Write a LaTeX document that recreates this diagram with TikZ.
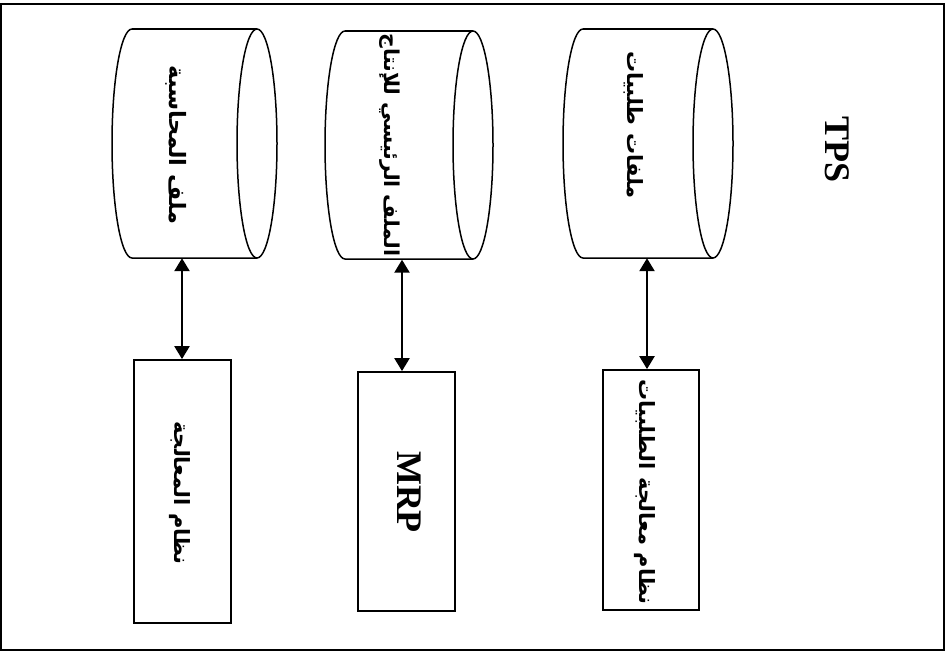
\documentclass[tikz,border=0pt]{standalone}
\usepackage{fontspec}
\usetikzlibrary{arrows.meta}
\TeXXeTstate=1
\setmainfont{Liberation Serif}
\newfontfamily\arabicfont[Script=Arabic]{DejaVu Sans}

\tikzset{
  frame/.style={draw, line width=2pt},
  store/.style={line width=1.5pt},
  storebody/.style={inner sep=0pt, minimum width=125pt, minimum height=229pt},
  procbox/.style={draw, line width=1.8pt, inner sep=0pt},
  link/.style={line width=2.4pt, {Triangle[length=13pt,width=15pt]}-{Triangle[length=13pt,width=15pt]}},
  artext/.style={rotate=-90, font=\arabicfont\bfseries\fontsize{21}{24}\selectfont, inner sep=0pt},
  latntext/.style={rotate=-90, font=\bfseries\fontsize{36}{40}\selectfont, inner sep=0pt}
}

% A horizontal data store: back half-ellipse on the left, full end ellipse on the right
\newcommand{\datastore}[5]{% name, left x, right x, top y, bottom y
  \draw[store] (#2,#4) arc[start angle=90, end angle=270, x radius=20pt, y radius={(#5-#4)/2*1pt}]
    -- (#3,#5);
  \draw[store] (#2,#4) -- (#3,#4);
  \draw[store] (#3,{(#4+#5)/2}) ellipse[x radius=20pt, y radius={(#5-#4)/2*1pt}];
  \node[storebody] (#1) at ({(#2+#3)/2},{(#4+#5)/2}) {};
}

\begin{document}
\begin{tikzpicture}[x=1pt, y=-1pt]
\useasboundingbox (0,0) rectangle (949,652);
\draw[frame] (1,4) rectangle (944,650);

% data stores
\datastore{c1}{132}{257}{29}{258}
\datastore{c2}{345}{473}{31}{259}
\datastore{c3}{583}{713}{29}{258}

\node[artext, font=\arabicfont\bfseries\fontsize{22.5}{26}\selectfont] (t1) at (176,145) {\beginR ملف المحاسبة\endR};
\node[artext, font=\arabicfont\bfseries\fontsize{20.5}{24}\selectfont] (t2) at (390,145) {\beginR الملف الرئيسي للإنتاج\endR};
\node[artext] (t3) at (634,125) {\beginR ملفات طلبيات\endR};

% processing systems
\node[procbox, minimum width=97pt, minimum height=263pt] (b1) at (182.5,491.5) {};
\node[procbox, minimum width=97pt, minimum height=239pt] (b2) at (406.5,491.5) {};
\node[procbox, minimum width=96pt, minimum height=240pt] (b3) at (651,490) {};

\node[artext] (u1) at (180,493) {\beginR نظام المعالجة\endR};
\node[latntext] (u2) at (409,492) {MRP};
\node[artext] (u3) at (645,492) {\beginR نظام معالجة الطلبيات\endR};

\node[latntext] (tps) at (837,150) {TPS};

% two-way links between systems and their files
\draw[link] (182,0 |- b1.north) -- (182,0 |- c1.south);
\draw[link] (402,0 |- b2.north) -- (402,0 |- c2.south);
\draw[link] (647,0 |- b3.north) -- (647,0 |- c3.south);
\end{tikzpicture}
\end{document}
